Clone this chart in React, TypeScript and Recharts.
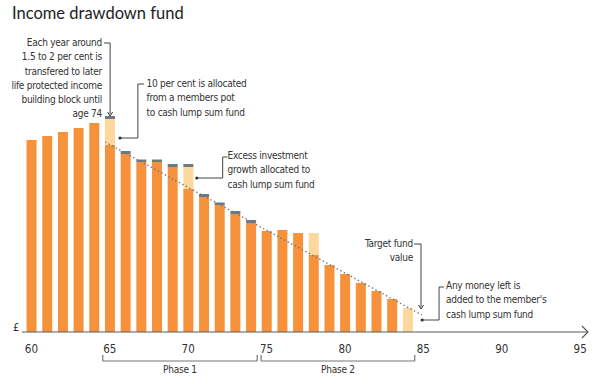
import { ComposedChart, Bar, Line, XAxis, YAxis, ReferenceLine, ReferenceDot } from "recharts";

const ages = [60, 61, 62, 63, 64, 65, 66, 67, 68, 69, 70, 71, 72, 73, 74, 75, 76, 77, 78, 79, 80, 81, 82, 83, 84];
// fund value left in the pot
const fundValues = [192, 196, 200, 204, 209, 187, 178, 170, 170, 165, 143, 135, 127, 118, 109, 101, 102, 99, 77, 67, 58, 49, 41, 33, 0];
// moved to cash lump sum fund
const cashValues = [0, 0, 0, 0, 0, 26, 0, 0, 0, 0, 22, 0, 0, 0, 0, 0, 0, 0, 22, 0, 0, 0, 0, 0, 24];
// moved to later life protected income
const protectedValues = [0, 0, 0, 0, 0, 3, 3, 2.5, 2.5, 3, 3, 3, 2.5, 3, 3, 0, 0, 0, 0, 0, 0, 0, 0, 0, 0];

const targetAges = [64.7, 84.9];
const targetValues = [190, 17];

const xTicks = [60, 65, 70, 75, 80, 85, 90, 95];

const W = 600;
const H = 384;
const M = { top: 10, right: 12, bottom: 22, left: 22 };
const X_DOMAIN = [59.4, 95.5];
const Y_DOMAIN = [0, 322];

const ORANGE = "#f7923c";
const PEACH = "#fdd89c";
const SLATE = "#6b7a86";
const INK = "#333";
const RULE = "#5a5a5a";
const FONT = "'DejaVu Sans Condensed', 'Liberation Sans Narrow', Lato, sans-serif";

const data = ages.map((age, i) => ({
  age,
  fund: fundValues[i],
  cash: cashValues[i],
  prot: protectedValues[i],
}));
const targetData = targetAges.map((age, i) => ({ age, target: targetValues[i] }));

// leader lines for the callouts, in chart units (age, value)
const leaders: [number, number, number, number][] = [
  [64.63, 289, 65.02, 289],
  [65.02, 289, 65.02, 218],
  [66.79, 248, 67.18, 248],
  [66.79, 248, 66.79, 194],
  [66.79, 194, 65.65, 194],
  [72.2, 175, 72.5, 175],
  [72.2, 175, 72.2, 154],
  [72.2, 154, 70.55, 154],
  [84.4, 88, 84.85, 88],
  [84.85, 88, 84.85, 25],
  [86.0, 45, 86.32, 45],
  [86.0, 45, 86.0, 12],
  [86.0, 12, 84.92, 12],
];
const leaderDots: [number, number][] = [
  [65.65, 194],
  [70.55, 154],
  [84.92, 12],
];
const leaderArrows: [number, number][] = [
  [65.02, 216],
  [84.85, 23],
];

const phases = [
  { name: "Phase 1", from: 64.55, to: 74.4 },
  { name: "Phase 2", from: 74.65, to: 84.45 },
];
const PHASE_Y = -29;

const plotW = W - M.left - M.right;
const plotH = H - M.top - M.bottom - 30;
const px = (age: number) => M.left + ((age - X_DOMAIN[0]) / (X_DOMAIN[1] - X_DOMAIN[0])) * plotW;
const py = (v: number) => M.top + plotH - (v / Y_DOMAIN[1]) * plotH;

const note = {
  position: "absolute" as const,
  fontFamily: FONT,
  fontSize: 10,
  letterSpacing: "-0.25px",
  lineHeight: "14.3px",
  color: INK,
  whiteSpace: "pre" as const,
};

const Tick = (props: any) => {
  const { x, y, payload } = props;
  return (
    <text x={x} y={y + 13} textAnchor="middle" fontFamily={FONT} fontSize={11.5} fill={INK}>
      {payload.value}
    </text>
  );
};

export default function App() {
  return (
    <div style={{ position: "absolute", left: 0, top: 0, width: W, height: H, background: "#fff" }}>
      <ComposedChart width={W} height={H} data={data} margin={M}>
        <XAxis
          dataKey="age"
          type="number"
          domain={X_DOMAIN}
          ticks={xTicks}
          allowDataOverflow
          height={30}
          tick={<Tick />}
          tickLine={false}
          axisLine={{ stroke: RULE, strokeWidth: 1.2 }}
        />
        <XAxis xAxisId="t" dataKey="age" type="number" domain={X_DOMAIN} allowDataOverflow hide />
        <YAxis hide domain={Y_DOMAIN} allowDataOverflow />
        <Bar dataKey="fund" stackId="a" fill={ORANGE} barSize={10} isAnimationActive={false} />
        <Bar dataKey="cash" stackId="a" fill={PEACH} barSize={10} isAnimationActive={false} />
        <Bar dataKey="prot" stackId="a" fill={SLATE} barSize={10} isAnimationActive={false} />
        <Line
          xAxisId="t"
          data={targetData}
          dataKey="target"
          type="linear"
          stroke="#6d7880"
          strokeWidth={1.4}
          strokeDasharray="1.4 2.6"
          dot={false}
          activeDot={false}
          isAnimationActive={false}
        />
        {leaders.map(([x1, y1, x2, y2], i) => (
          <ReferenceLine
            key={"l" + i}
            segment={[{ x: x1, y: y1 }, { x: x2, y: y2 }]}
            stroke="#444"
            strokeWidth={1}
            ifOverflow="visible"
          />
        ))}
        {leaderDots.map(([x, y], i) => (
          <ReferenceDot key={"d" + i} x={x} y={y} r={1.6} fill="#333" stroke="none" ifOverflow="visible" />
        ))}
        {leaderArrows.map(([x, y], i) => (
          <ReferenceDot
            key={"a" + i}
            x={x}
            y={y}
            ifOverflow="visible"
            shape={(p: any) => (
              <path d={`M${p.cx - 2.5},${p.cy - 4} L${p.cx},${p.cy} L${p.cx + 2.5},${p.cy - 4}`} fill="none" stroke="#333" strokeWidth={1} />
            )}
          />
        ))}
        {/* axis arrow head */}
        <ReferenceDot
          x={X_DOMAIN[1]}
          y={0}
          ifOverflow="visible"
          shape={(p: any) => (
            <path d={`M${p.cx - 6},${p.cy - 6} L${p.cx},${p.cy} L${p.cx - 6},${p.cy + 6}`} fill="none" stroke={RULE} strokeWidth={1.2} />
          )}
        />
        {phases.map((ph) => [
          <ReferenceLine key={ph.name + "h"} segment={[{ x: ph.from, y: PHASE_Y }, { x: ph.to, y: PHASE_Y }]} stroke="#777" strokeWidth={1.2} ifOverflow="visible" />,
          <ReferenceLine key={ph.name + "a"} segment={[{ x: ph.from, y: PHASE_Y }, { x: ph.from, y: PHASE_Y + 6 }]} stroke="#777" strokeWidth={1.2} ifOverflow="visible" />,
          <ReferenceLine key={ph.name + "b"} segment={[{ x: ph.to, y: PHASE_Y }, { x: ph.to, y: PHASE_Y + 6 }]} stroke="#777" strokeWidth={1.2} ifOverflow="visible" />,
        ])}
      </ComposedChart>

      <div style={{ position: "absolute", left: 12, top: 4, fontFamily: "Lato, sans-serif", fontSize: 16.5, lineHeight: "18px", color: "#222" }}>
        Income drawdown fund
      </div>
      <div style={{ ...note, left: 13, top: 321, fontSize: 11 }}>£</div>

      <div style={{ ...note, right: W - 102, top: 36, textAlign: "right" }}>
        {"Each year around\n1.5 to 2 per cent is\ntransfered to later\nlife protected income\nbuilding block until\nage 74"}
      </div>
      <div style={{ ...note, left: 146.5, top: 77 }}>
        {"10 per cent is allocated\nfrom a members pot\nto cash lump sum fund"}
      </div>
      <div style={{ ...note, left: 227.5, top: 149 }}>
        {"Excess investment\ngrowth allocated to\ncash lump sum fund"}
      </div>
      <div style={{ ...note, right: W - 413, top: 237, textAlign: "right" }}>
        {"Target fund\nvalue"}
      </div>
      <div style={{ ...note, left: 446, top: 279 }}>
        {"Any money left is\nadded to the member's\ncash lump sum fund"}
      </div>

      {phases.map((ph) => (
        <div
          key={ph.name}
          style={{ ...note, left: (px(ph.from) + px(ph.to)) / 2 - 40, width: 80, textAlign: "center", top: py(PHASE_Y) + 2 }}
        >
          {ph.name}
        </div>
      ))}
    </div>
  );
}
